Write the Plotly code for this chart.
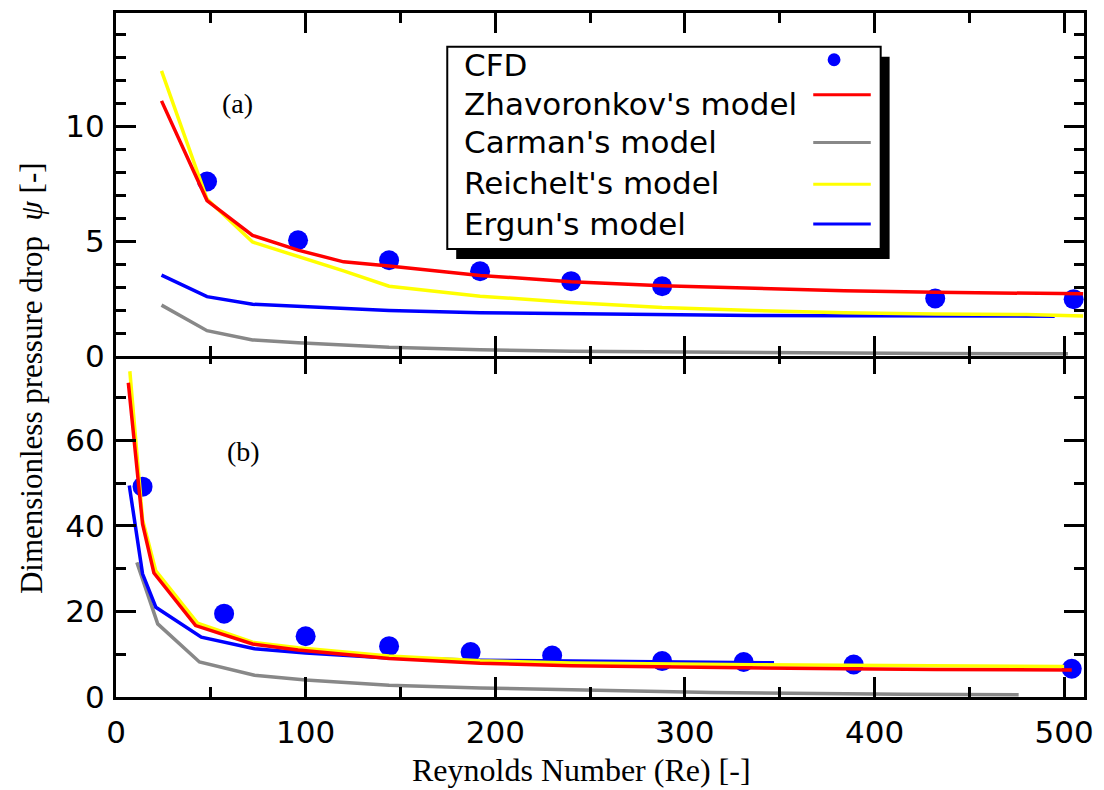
import plotly.graph_objects as go

# ---------------- data: panel (a) ----------------
re_cfd_a = [48, 96, 144, 192, 240, 288, 432, 505]
psi_cfd_a = [7.6, 5.05, 4.18, 3.70, 3.27, 3.05, 2.52, 2.49]

re_model_a = [24, 48, 72, 96, 120, 144, 192, 240, 288, 336, 384, 432, 480, 510]
psi_zhav_a = [11.1, 6.77, 5.26, 4.62, 4.11, 3.93, 3.52, 3.25, 3.07, 2.96, 2.86, 2.79, 2.75, 2.72]
psi_reich_a = [12.4, 6.84, 4.97, 4.35, 3.72, 3.05, 2.62, 2.35, 2.13, 2.00, 1.90, 1.85, 1.82, 1.76]
re_carman_a = [24, 48, 72, 96, 144, 192, 240, 288, 336, 384, 432, 502]
psi_carman_a = [2.23, 1.12, 0.72, 0.60, 0.40, 0.29, 0.23, 0.20, 0.17, 0.15, 0.13, 0.12]
re_ergun_a = [24, 48, 72, 96, 144, 192, 240, 288, 336, 384, 432, 495]
psi_ergun_a = [3.53, 2.60, 2.27, 2.19, 2.00, 1.90, 1.85, 1.82, 1.78, 1.77, 1.76, 1.75]

# ---------------- data: panel (b) ----------------
re_cfd_b = [14, 57, 100, 144, 187, 230, 288, 331, 389, 504]
psi_cfd_b = [49.2, 19.5, 14.2, 11.9, 10.5, 9.7, 8.4, 8.2, 7.6, 6.6]
re_zhav_b = [6.5, 14, 20, 42, 72, 96, 144, 192, 240, 288, 336, 384, 432, 504]
psi_zhav_b = [73.5, 40.5, 29.0, 16.7, 12.4, 11.0, 9.0, 7.9, 7.3, 7.0, 6.75, 6.6, 6.45, 6.3]
re_reich_b = [7.3, 14, 21, 43, 72, 96, 144, 192, 240, 288, 336, 384, 432, 500]
psi_reich_b = [76.2, 41.5, 29.5, 17.3, 12.8, 11.5, 9.6, 8.5, 7.95, 7.7, 7.55, 7.45, 7.3, 7.15]
re_ergun_b = [7, 14, 21, 45, 73, 100, 144, 192, 240, 288, 347]
psi_ergun_b = [49.5, 28.8, 21.0, 14.0, 11.3, 10.3, 9.1, 8.6, 8.4, 8.2, 8.0]
re_carman_b = [11, 22, 44, 73, 100, 144, 192, 250, 314, 414, 476]
psi_carman_b = [31.5, 17.1, 8.2, 5.1, 4.0, 2.75, 2.1, 1.55, 1.05, 0.65, 0.55]

x_ticks = [0, 100, 200, 300, 400, 500]
y_ticks_a = [0, 5, 10]
y_ticks_b = [0, 20, 40, 60]

legend_names = ["CFD", "Zhavoronkov's model", "Carman's model", "Reichelt's model", "Ergun's model"]
RED, GRAY, YEL, BLUE = "#ff0000", "#888888", "#ffff00", "#0000ff"

W, H = 1104, 790
ML, MR, MT, MB = 116, 12, 10, 93
PW, PH = W - ML - MR, H - MT - MB


def px(x):
    return (x - ML) / PW


def py(y):
    return (H - MB - y) / PH


fig = go.Figure()
LW = 3.5

def add_panel(xa, ya, re_cfd, psi_cfd, series):
    fig.add_trace(go.Scatter(x=re_cfd, y=psi_cfd, mode="markers", xaxis=xa, yaxis=ya,
                             marker=dict(color=BLUE, size=20), showlegend=False))
    for xs, ys, col in series:
        fig.add_trace(go.Scatter(x=xs, y=ys, mode="lines", xaxis=xa, yaxis=ya,
                                 line=dict(color=col, width=LW), showlegend=False))

add_panel("x2", "y", re_cfd_a, psi_cfd_a, [
    (re_carman_a, psi_carman_a, GRAY),
    (re_ergun_a, psi_ergun_a, BLUE),
    (re_model_a, psi_reich_a, YEL),
    (re_model_a, psi_zhav_a, RED),
])
add_panel("x", "y2", re_cfd_b, psi_cfd_b, [
    (re_carman_b, psi_carman_b, GRAY),
    (re_ergun_b, psi_ergun_b, BLUE),
    (re_reich_b, psi_reich_b, YEL),
    (re_zhav_b, psi_zhav_b, RED),
])

TICKFONT = dict(family="DejaVu Sans", size=31, color="black")
common_x = dict(range=[0, PW / 1.912], tickvals=x_ticks, ticks="inside", ticklen=20, tickwidth=2.5,
                tickcolor="black", showline=True, linewidth=3, linecolor="black", mirror="allticks",
                showgrid=False, zeroline=False,
                minor=dict(dtick=50, ticklen=10, tickwidth=2.5, tickcolor="black", ticks="inside", showgrid=False))
common_y = dict(ticks="inside", ticklen=20, tickwidth=2.5, tickcolor="black", showline=True,
                linewidth=3, linecolor="black", mirror="allticks", showgrid=False, zeroline=False,
                tickfont=TICKFONT, ticklabelstandoff=2)

half = 1.5 / PH  # make the two 3px boundary lines coincide
fig.update_layout(
    width=W, height=H, margin=dict(l=ML, r=MR, t=MT, b=MB),
    paper_bgcolor="white", plot_bgcolor="white", showlegend=False,
    xaxis=dict(domain=[0, 1], anchor="y2", tickfont=TICKFONT, ticklabelstandoff=6, **common_x),
    xaxis2=dict(domain=[0, 1], anchor="y", matches="x", showticklabels=False, **common_x),
    yaxis=dict(domain=[0.5 - half, 1], anchor="x2", range=[0, (PH / 2 + 1.5) / 23.13], tickvals=y_ticks_a,
               minor=dict(dtick=1, ticklen=10, tickwidth=2.5, tickcolor="black", ticks="inside", showgrid=False),
               **common_y),
    yaxis2=dict(domain=[0, 0.5 + half], anchor="x", range=[0, 80.35], tickvals=y_ticks_b,
                minor=dict(dtick=10, ticklen=10, tickwidth=2.5, tickcolor="black", ticks="inside", showgrid=False),
                **common_y),
)

SERIF = "Liberation Serif"
ann = []
ann.append(dict(text="Dimensionless pressure drop  <i>ψ</i> [-]", textangle=-90, xref="paper", yref="paper",
                x=px(31), y=py(377), showarrow=False, xanchor="center", yanchor="middle",
                font=dict(family=SERIF, size=31, color="black")))
ann.append(dict(text="Reynolds Number (Re) [-]", xref="paper", yref="paper", x=px(585), y=py(770),
                showarrow=False, xanchor="center", yanchor="middle",
                font=dict(family=SERIF, size=32, color="black")))
ann.append(dict(text="(a)", xref="paper", yref="paper", x=px(239), y=py(101), showarrow=False,
                xanchor="center", yanchor="middle", font=dict(family=SERIF, size=28, color="black")))
ann.append(dict(text="(b)", xref="paper", yref="paper", x=px(245), y=py(450), showarrow=False,
                xanchor="center", yanchor="middle", font=dict(family=SERIF, size=28, color="black")))

# manual legend (symbols on the right)
shapes = []
bx0, bx1, by0, by1 = 450, 887, 44, 247
shapes.append(dict(type="rect", xref="paper", yref="paper", x0=px(bx0 + 9), x1=px(bx1 + 9),
                   y0=py(by0 + 10), y1=py(by1 + 10), fillcolor="black", line=dict(width=0)))
shapes.append(dict(type="rect", xref="paper", yref="paper", x0=px(bx0), x1=px(bx1),
                   y0=py(by0), y1=py(by1), fillcolor="white", line=dict(color="black", width=2)))
row_y = [62, 101, 140, 181, 222]
for name, yy in zip(legend_names, row_y):
    ann.append(dict(text=name, xref="paper", yref="paper", x=px(465), y=py(yy), showarrow=False,
                    xanchor="left", yanchor="middle", font=dict(family="DejaVu Sans", size=31, color="black")))
shapes.append(dict(type="circle", xref="paper", yref="paper", x0=px(840 - 6.5), x1=px(840 + 6.5),
                   y0=py(57 - 6.5), y1=py(57 + 6.5), fillcolor=BLUE, line=dict(width=0)))
for col, yy in zip([RED, GRAY, YEL, BLUE], [92, 140, 182, 222]):
    shapes.append(dict(type="line", xref="paper", yref="paper", x0=px(819), x1=px(877),
                       y0=py(yy), y1=py(yy), line=dict(color=col, width=3)))

fig.update_layout(annotations=ann, shapes=shapes)
fig.write_html("out.html")
